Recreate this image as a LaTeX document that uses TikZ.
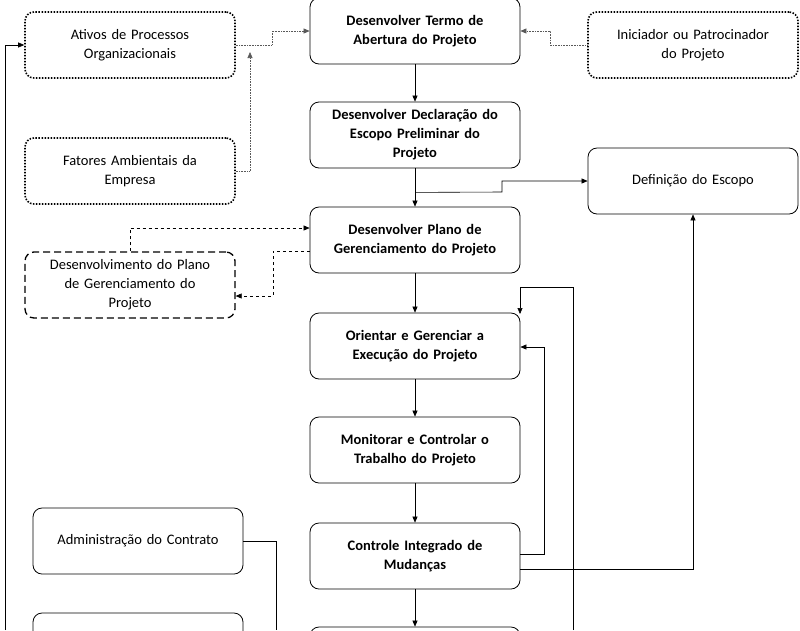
\documentclass[tikz,border=0pt]{standalone}
\usepackage{fontspec}
\setmainfont{Carlito}
\usetikzlibrary{arrows.meta}
\begin{document}
\begin{tikzpicture}[x=1pt,y=-1pt,
  box/.style={draw,thick,rounded corners=9pt,minimum width=210pt,minimum height=66pt,align=center,font=\fontsize{14.5}{19}\selectfont,text width=200pt},
  main/.style={box,font=\fontsize{14.5}{19}\selectfont\bfseries},
  dotbox/.style={box,dash pattern=on 1.5pt off 1.5pt,line width=1.6pt},
  dashbox/.style={box,dash pattern=on 7pt off 4pt,line width=1.3pt},
  arr/.style={-{Triangle[length=6pt,width=5pt]},line width=0.6pt},
  dotarr/.style={arr,densely dotted,gray!70!black},
  dasharr/.style={arr,dashed}]
\useasboundingbox (0,0) rectangle (800,630);
\node[dotbox] (ativos) at (130,45) {Ativos de Processos\\Organizacionais};
\node[dotbox] (fatores) at (130,171) {Fatores Ambientais da\\Empresa};
\node[dashbox] (dplano) at (130,285) {Desenvolvimento do Plano\\de Gerenciamento do\\Projeto};
\node[main] (termo) at (415,31) {Desenvolver Termo de\\Abertura do Projeto};
\node[main] (decl) at (415,135) {Desenvolver Declaração do\\Escopo Preliminar do\\Projeto};
\node[main] (plano) at (415,240) {Desenvolver Plano de\\Gerenciamento do Projeto};
\node[main] (orient) at (415,346) {Orientar e Gerenciar a\\Execução do Projeto};
\node[main] (monit) at (415,450) {Monitorar e Controlar o\\Trabalho do Projeto};
\node[main] (ctrl) at (415,556) {Controle Integrado de\\Mudanças};
\node[main] (final) at (415,660) {};
\node[dotbox] (inic) at (693,45) {Iniciador ou Patrocinador\\do Projeto};
\node[box] (defesc) at (693,181) {Definição do Escopo};
\node[box] (admin) at (138,541) {Administração do Contrato};
\node[box] (blbox) at (138,646) {};
\draw[dotarr] (ativos.east) -- (272,45) -- (272,31) -- (termo.west);
\draw[dotarr] (fatores.east) -- (250,171) -- (250,52);
\draw[dotarr] (inic.west) -- (550,45) -- (550,31) -- (termo.east);
\draw[arr] (termo) -- (decl);
\draw[arr] (decl) -- (plano);
\draw[arr] (plano) -- (orient);
\draw[arr] (orient) -- (monit);
\draw[arr] (monit) -- (ctrl);
\draw[arr] (ctrl) -- (final);
\draw[arr] (decl.south) ++(0,24) -- (502,192) -- (502,181) -- (defesc.west);
\draw[dasharr] (dplano.north) -- (130,228) -- (plano.west |- 0,228);
\draw[dasharr] (plano.west |- 0,251) -- (273,251) -- (273,296) -- (dplano.east |- 0,296);
\draw[arr] (ctrl.east |- 0,554) -- (544,554) -- (544,347) -- (orient.east |- 0,347);
\draw[arr] (573,630) -- (573,287) -- (520,287) -- (520,314);
\draw[arr] (ctrl.east |- 0,569) -- (693,569) -- (defesc.south);
\draw (admin.east) -- (276,541) -- (276,630);
\draw[arr] (5,630) -- (5,45) -- (ativos.west);
\end{tikzpicture}
\end{document}
